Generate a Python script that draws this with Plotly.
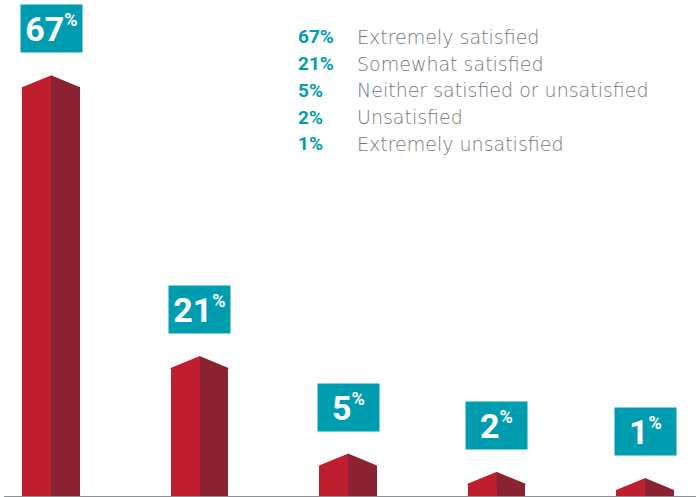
import plotly.graph_objects as go

# ---- data ----
categories = ["Extremely satisfied", "Somewhat satisfied",
              "Neither satisfied or unsatisfied", "Unsatisfied",
              "Extremely unsatisfied"]
values = [67, 21, 5, 2, 1]
value_labels = ["67%", "21%", "5%", "2%", "1%"]

# ---- style ----
RED = "#BE1E2D"
DARK = "#8A2232"
TEAL = "#009DB0"
GRAY_TXT = "#72767D"
AXIS = "#8E9297"

W, H = 696, 497
ML, MR, MT, MB = 4, 0, 0, 1
px_per_cat = 148.5
plot_w = W - ML - MR
plot_h = H - MT - MB
px_per_pct = 6.1
first_center_px = 51 - ML

half = 0.195          # half-bar width in category units
roof = 12 / px_per_pct  # roof height in value units

xs = list(range(len(values)))

fig = go.Figure()
fig.add_trace(go.Bar(x=xs, y=values, width=half, offset=-half,
                     marker=dict(color=RED, line=dict(width=0)),
                     hoverinfo="skip"))
fig.add_trace(go.Bar(x=xs, y=values, width=half, offset=0,
                     marker=dict(color=DARK, line=dict(width=0)),
                     hoverinfo="skip"))

# roofs
lx, ly, rx, ry = [], [], [], []
for x, v in zip(xs, values):
    lx += [x - half, x + 0.003, x + 0.003, x - half, None]
    ly += [v - 0.2, v - 0.2, v + roof, v, None]
    rx += [x, x + half, x + half, x, None]
    ry += [v - 0.2, v - 0.2, v, v + roof, None]
fig.add_trace(go.Scatter(x=lx, y=ly, fill="toself", fillcolor=RED, mode="lines",
                         line=dict(width=0, color=RED), hoverinfo="skip"))
fig.add_trace(go.Scatter(x=rx, y=ry, fill="toself", fillcolor=DARK, mode="lines",
                         line=dict(width=0, color=DARK), hoverinfo="skip"))

# value boxes
for x, v, lab in zip(xs, values, value_labels):
    num = lab.rstrip("%")
    fig.add_annotation(
        x=x, y=v + roof, xref="x", yref="y", yanchor="bottom", yshift=22,
        text=f"{num}<sup><span style='font-size:18px'>%</span></sup>",
        showarrow=False, bgcolor=TEAL, width=61, height=47, borderpad=0,
        font=dict(family="Roboto, sans-serif", size=34, color="white",
                  weight="bold"),
        align="center", valign="middle")

# legend text
row0_y, row_step = 37, 26.7
for i, (lab, cat) in enumerate(zip(value_labels, categories)):
    ypx = row0_y + i * row_step
    yp = 1 - (ypx - MT) / plot_h
    fig.add_annotation(x=(296 - ML) / plot_w, y=yp, xref="paper", yref="paper",
                       xanchor="left", yanchor="middle", showarrow=False,
                       text=f"<b>{lab}</b>",
                       font=dict(family="Roboto, sans-serif", size=19, color=TEAL))
    fig.add_annotation(x=(355 - ML) / plot_w, y=yp, xref="paper", yref="paper",
                       xanchor="left", yanchor="middle", showarrow=False,
                       text=cat,
                       font=dict(family="DejaVu Sans, sans-serif", size=19,
                                 color=GRAY_TXT, weight=300))

x0 = -first_center_px / px_per_cat
fig.update_layout(
    width=W, height=H, margin=dict(l=ML, r=MR, t=MT, b=MB),
    paper_bgcolor="white", plot_bgcolor="white",
    barmode="overlay", bargap=0, showlegend=False,
    xaxis=dict(range=[x0, x0 + plot_w / px_per_cat], showgrid=False,
               zeroline=False, showticklabels=False, ticks="",
               showline=True, linecolor=AXIS, linewidth=2, fixedrange=True),
    yaxis=dict(range=[0, plot_h / px_per_pct], showgrid=False, zeroline=False,
               showticklabels=False, ticks="", showline=False, fixedrange=True),
)

fig.write_html("out.html",
               config={"displayModeBar": False, "staticPlot": True},
               post_script="document.body.style.margin='0';"
                           "document.body.style.padding='0';")
